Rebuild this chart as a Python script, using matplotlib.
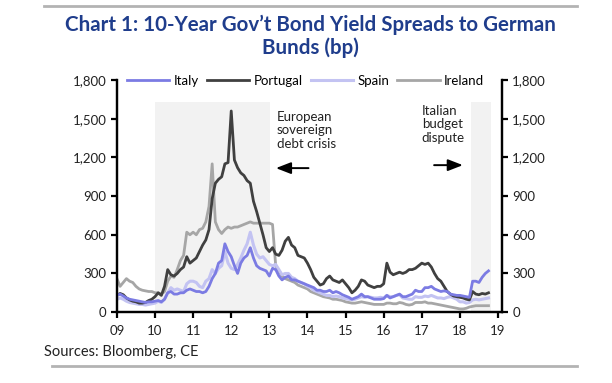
import numpy as np
import pandas as pd
import matplotlib
matplotlib.use("Agg")
import matplotlib.pyplot as plt

# monthly spreads to Bunds (bp), Jan 2009 - Oct 2018, one row per year
italy = [130, 140, 125, 110, 100, 95, 90, 85, 80, 75, 80, 80,
         85, 90, 80, 100, 150, 160, 140, 140, 150, 150, 170, 180,
         170, 160, 160, 150, 160, 200, 260, 300, 380, 400, 530, 470,
         430, 360, 300, 380, 420, 440, 500, 420, 360, 340, 330, 320,
         280, 340, 330, 280, 250, 270, 280, 250, 250, 240, 230, 220,
         210, 200, 190, 170, 170, 160, 160, 170, 150, 160, 150, 135,
         125, 115, 100, 110, 120, 140, 120, 120, 110, 100, 100, 100,
         105, 130, 110, 120, 130, 140, 120, 120, 130, 140, 170, 160,
         160, 190, 190, 200, 180, 170, 160, 165, 160, 140, 135, 130,
         130, 125, 120, 115, 240, 240, 230, 270, 300, 320]
portugal = [130, 145, 135, 110, 95, 85, 80, 70, 70, 75, 90, 100,
            120, 150, 130, 200, 330, 290, 280, 300, 330, 350, 430, 380,
            400, 420, 470, 520, 560, 640, 880, 1000, 1030, 1050, 1150, 1160,
            1560, 1180, 1120, 1080, 1060, 1020, 1000, 860, 780, 690, 600, 500,
            470, 500, 450, 440, 480, 550, 580, 520, 500, 440, 430, 420,
            380, 330, 270, 240, 210, 220, 260, 280, 250, 240, 230, 250,
            220, 190, 150, 170, 200, 250, 240, 210, 200, 190, 200, 200,
            220, 380, 310, 290, 300, 310, 300, 310, 330, 330, 340, 360,
            380, 370, 380, 350, 300, 260, 240, 200, 160, 140, 125, 120,
            115, 110, 100, 95, 160, 140, 135, 145, 140, 150]
spain = [100, 110, 100, 85, 75, 70, 65, 60, 60, 55, 60, 65,
         70, 85, 75, 100, 150, 190, 170, 180, 170, 160, 220, 240,
         240, 230, 200, 190, 240, 260, 330, 300, 340, 360, 470, 380,
         340, 330, 370, 420, 480, 530, 620, 520, 450, 420, 430, 400,
         370, 360, 370, 330, 290, 300, 300, 270, 260, 240, 230, 220,
         200, 190, 170, 160, 150, 140, 130, 130, 120, 125, 120, 110,
         105, 100, 95, 100, 110, 120, 115, 120, 115, 110, 110, 115,
         110, 130, 120, 120, 130, 135, 110, 105, 100, 100, 120, 115,
         115, 125, 120, 130, 120, 110, 110, 105, 115, 120, 110, 100,
         80, 80, 70, 75, 95, 100, 95, 100, 105, 110]
ireland = [260, 200, 230, 260, 240, 230, 200, 180, 170, 165, 160, 160,
           150, 150, 140, 160, 240, 280, 270, 330, 400, 440, 620, 600,
           620, 600, 640, 650, 700, 820, 1150, 700, 640, 610, 640, 660,
           650, 660, 660, 670, 680, 690, 700, 690, 690, 690, 690, 690,
           690, 680, 360, 320, 280, 260, 250, 240, 230, 210, 200, 190,
           180, 160, 150, 140, 130, 120, 115, 110, 100, 100, 95, 90,
           80, 75, 70, 70, 75, 80, 75, 70, 65, 60, 60, 60,
           60, 70, 70, 65, 65, 75, 70, 60, 55, 60, 75, 75,
           75, 80, 70, 70, 65, 60, 55, 50, 45, 40, 35, 30,
           25, 25, 30, 40, 45, 50, 50, 50, 50, 50]

dates = pd.date_range("2009-01-01", periods=len(italy), freq="MS")
x = dates.year + (dates.month - 1) / 12

year_ticks = list(range(2009, 2020))
year_labels = ["09", "10", "11", "12", "13", "14", "15", "16", "17", "18", "19"]
y_ticks = [0, 300, 600, 900, 1200, 1500, 1800]
y_labels = ["0", "300", "600", "900", "1,200", "1,500", "1,800"]

plt.rcParams["font.family"] = ["Lato", "DejaVu Sans"]

fig = plt.figure(figsize=(6.12, 3.83), dpi=100)
ax = fig.add_axes([0.191, 0.185, 0.629, 0.606])

# shaded episodes
ax.axvspan(2010.0, 2013.03, ymax=1630 / 1800, color="#f2f2f2", lw=0, zorder=0)
ax.axvspan(2018.28, 2018.82, ymax=1630 / 1800, color="#f2f2f2", lw=0, zorder=0)

ax.plot(x, ireland, color="#a6a6a6", lw=2, label="Ireland", zorder=2)
ax.plot(x, portugal, color="#404040", lw=2, label="Portugal", zorder=3)
ax.plot(x, spain, color="#c3c3f2", lw=2.2, label="Spain", zorder=2)
ax.plot(x, italy, color="#7b7be3", lw=2, label="Italy", zorder=4)

ax.set_xlim(2009, 2019.1)
ax.set_ylim(0, 1800)
ax.set_xticks(year_ticks)
ax.set_xticklabels(year_labels)
ax.set_yticks(y_ticks)
ax.set_yticklabels(y_labels)

ax2 = ax.twinx()
ax2.set_ylim(0, 1800)
ax2.set_yticks(y_ticks)
ax2.set_yticklabels(y_labels)

for a in (ax, ax2):
    a.spines["top"].set_visible(False)
    for s in a.spines.values():
        s.set_linewidth(1.6)
        s.set_color("black")
    a.tick_params(length=4, width=1.6, labelsize=9.5, colors="black", labelcolor="#222222")
ax.tick_params(axis="x", pad=5)

h, l = ax.get_legend_handles_labels()
order = [l.index(n) for n in ["Italy", "Portugal", "Spain", "Ireland"]]
ax.legend([h[i] for i in order], [l[i] for i in order], ncol=4, loc="upper center",
          bbox_to_anchor=(0.49, 1.04), frameon=False, fontsize=9.5, handlelength=3.2,
          handletextpad=0.35, columnspacing=0.6, borderaxespad=0, borderpad=0.3)

ax.text(2013.19, 1560, "European\nsovereign\ndebt crisis", fontsize=9.5, va="top", ha="left",
        linespacing=1.15, color="#222222")
ax.annotate("", xy=(2013.1, 1117), xytext=(2014.1, 1117),
            arrowprops=dict(arrowstyle="-|>,head_width=0.35,head_length=0.9", color="black", lw=1.4))
ax.text(2017.0, 1610, "Italian\nbudget\ndispute", fontsize=9.5, va="top", ha="left",
        linespacing=1.15, color="#222222")
ax.annotate("", xy=(2018.15, 1140), xytext=(2017.25, 1140),
            arrowprops=dict(arrowstyle="-|>,head_width=0.35,head_length=0.9", color="black", lw=1.4))

fig.text(0.508, 0.905, "Chart 1: 10-Year Gov\u2019t Bond Yield Spreads to German\nBunds (bp)",
         ha="center", va="center", fontsize=14.8, fontweight="bold", color="#1f3d8c", linespacing=1.2)
fig.text(0.072, 0.081, "Sources: Bloomberg, CE", fontsize=10.5, va="center", ha="left", color="#222222")

fig.add_artist(plt.Line2D([0.072, 0.943], [0.984, 0.984], color="#b3b3b3", lw=2))
fig.add_artist(plt.Line2D([0.085, 0.943], [0.045, 0.045], color="#b3b3b3", lw=2))

fig.savefig("out.png", dpi=100)
